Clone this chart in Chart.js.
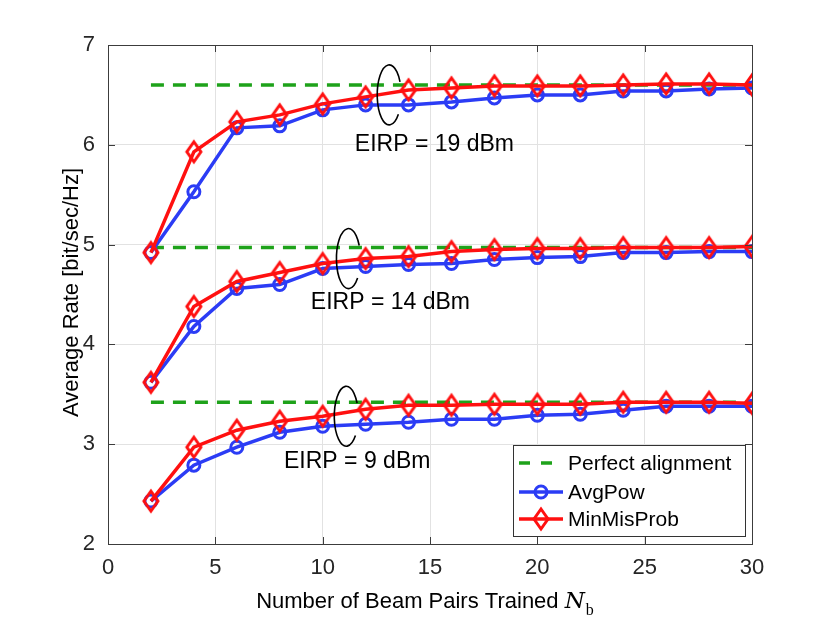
<!DOCTYPE html>
<html>
<head>
<meta charset="utf-8">
<script src="https://cdn.jsdelivr.net/npm/chart.js@4.4.1/dist/chart.umd.min.js"></script>
<style>
  html, body { margin:0; padding:0; background:#fff; }
  #wrap { width:830px; height:623px; }
</style>
</head>
<body>
<div id="wrap"><canvas id="chart" width="830" height="623"></canvas></div>
<script>
'use strict';

/* ── data ── */
const N_PAIRS   = [2, 4, 6, 8, 10, 12, 14, 16, 18, 20, 22, 24, 26, 28, 30];
const AVG_19    = [4.92, 5.53, 6.17, 6.19, 6.35, 6.40, 6.40, 6.43, 6.47, 6.50, 6.50, 6.54, 6.54, 6.56, 6.57];
const MIN_19    = [4.92, 5.93, 6.23, 6.30, 6.41, 6.48, 6.55, 6.57, 6.59, 6.59, 6.59, 6.60, 6.61, 6.61, 6.60];
const AVG_14    = [3.62, 4.18, 4.56, 4.60, 4.76, 4.78, 4.80, 4.81, 4.85, 4.87, 4.88, 4.92, 4.92, 4.93, 4.93];
const MIN_14    = [3.62, 4.38, 4.63, 4.72, 4.81, 4.86, 4.88, 4.93, 4.95, 4.96, 4.96, 4.97, 4.97, 4.97, 4.98];
const AVG_9     = [2.43, 2.79, 2.97, 3.12, 3.18, 3.20, 3.22, 3.25, 3.25, 3.29, 3.30, 3.34, 3.38, 3.38, 3.38];
const MIN_9     = [2.43, 2.97, 3.14, 3.23, 3.28, 3.35, 3.39, 3.39, 3.40, 3.40, 3.40, 3.42, 3.42, 3.42, 3.41];
const PERFECT   = [6.60, 4.97, 3.42];          // 19, 14, 9 dBm
const X_TICKS   = [0, 5, 10, 15, 20, 25, 30];
const Y_TICKS   = [2, 3, 4, 5, 6, 7];
const SERIES    = ['Perfect alignment', 'AvgPow', 'MinMisProb'];
const EIRP_TXT  = ['EIRP = 19 dBm', 'EIRP = 14 dBm', 'EIRP = 9 dBm'];
// label anchor (left, middle) and ellipse centre, in data units
const EIRP_POS  = [[11.5, 6.00], [9.45, 4.42], [8.2, 2.83]];
const ELL_POS   = [[13.1, 6.50], [11.2, 4.86], [11.1, 3.28]];

/* ── styles ── */
const C = { blue:'#2b3cf5', red:'#ff1010', green:'#1ea21a', ink:'#262626', grid:'#e2e2e2', axis:'#3c3c3c' };
const FONT = "'Liberation Sans', Arial, Helvetica, sans-serif";

function diamond(color) {
  const cv = document.createElement('canvas');
  cv.width = 22; cv.height = 28;
  const g = cv.getContext('2d');
  g.strokeStyle = color; g.lineWidth = 3; g.lineJoin = 'miter';
  g.beginPath();
  g.moveTo(11, 4); g.lineTo(18, 14); g.lineTo(11, 24); g.lineTo(4, 14); g.closePath();
  g.stroke();
  return cv;
}
const DIAMOND = diamond(C.red);

const pts = ys => N_PAIRS.map((x, i) => ({ x, y: ys[i] }));
const flat = v => [{ x: N_PAIRS[0], y: v }, { x: N_PAIRS[N_PAIRS.length - 1], y: v }];

const datasets = [];
[MIN_19, MIN_14, MIN_9].forEach(d => datasets.push({
  label: SERIES[2], data: pts(d), order: 1,
  borderColor: C.red, borderWidth: 3.5, pointStyle: DIAMOND,
  pointRadius: 9, pointBorderWidth: 0, backgroundColor: 'transparent'
}));
[AVG_19, AVG_14, AVG_9].forEach(d => datasets.push({
  label: SERIES[1], data: pts(d), order: 2,
  borderColor: C.blue, borderWidth: 3.5, pointStyle: 'circle',
  pointRadius: 6, pointBorderWidth: 3, pointBorderColor: C.blue, pointBackgroundColor: 'transparent'
}));
PERFECT.forEach(v => datasets.push({
  label: SERIES[0], data: flat(v), order: 3,
  borderColor: C.green, borderWidth: 3.5, borderDash: [13, 9], pointRadius: 0
}));

/* ── extra drawing: box, inward ticks, ellipses, labels, legend, titles ── */
const decor = {
  id: 'decor',
  afterDatasetsDraw(chart) {
    const { ctx, chartArea: a, scales: { x, y } } = chart;
    ctx.save();

    // ellipse markers
    ctx.strokeStyle = '#000'; ctx.lineWidth = 1.6;
    ELL_POS.forEach(([ex, ey]) => {
      ctx.beginPath();
      ctx.ellipse(x.getPixelForValue(ex), y.getPixelForValue(ey), 12, 30, 0, 0.7, Math.PI * 2 - 0.45);
      ctx.stroke();
    });

    // EIRP labels
    ctx.fillStyle = '#000';
    ctx.font = `23px ${FONT}`;
    ctx.textAlign = 'left'; ctx.textBaseline = 'middle';
    EIRP_TXT.forEach((t, i) => ctx.fillText(t, x.getPixelForValue(EIRP_POS[i][0]), y.getPixelForValue(EIRP_POS[i][1])));

    // axes box + inward ticks
    ctx.strokeStyle = C.axis; ctx.lineWidth = 1;
    ctx.strokeRect(a.left + 0.5, a.top + 0.5, a.right - a.left, a.bottom - a.top);
    ctx.beginPath();
    X_TICKS.forEach(v => {
      const px = Math.round(x.getPixelForValue(v)) + 0.5;
      ctx.moveTo(px, a.bottom); ctx.lineTo(px, a.bottom - 7);
      ctx.moveTo(px, a.top); ctx.lineTo(px, a.top + 7);
    });
    Y_TICKS.forEach(v => {
      const py = Math.round(y.getPixelForValue(v)) + 0.5;
      ctx.moveTo(a.left, py); ctx.lineTo(a.left + 7, py);
      ctx.moveTo(a.right, py); ctx.lineTo(a.right - 7, py);
    });
    ctx.stroke();

    // legend
    const bw = 232, bh = 91;
    const bx = a.right - 7 - bw, by = a.bottom - 8 - bh;
    ctx.fillStyle = '#fff';
    ctx.fillRect(bx, by, bw, bh);
    ctx.strokeStyle = '#333'; ctx.lineWidth = 1;
    ctx.strokeRect(bx + 0.5, by + 0.5, bw, bh);
    ctx.font = `21px ${FONT}`;
    ctx.textBaseline = 'middle';
    const rows = [by + 18, by + 47, by + 74];
    const lx0 = bx + 6, lx1 = bx + 50, lxm = (lx0 + lx1) / 2;
    // perfect
    ctx.strokeStyle = C.green; ctx.lineWidth = 3.5; ctx.setLineDash([11, 11]);
    ctx.beginPath(); ctx.moveTo(lx0, rows[0]); ctx.lineTo(lx1, rows[0]); ctx.stroke();
    ctx.setLineDash([]);
    // avgpow
    ctx.strokeStyle = C.blue;
    ctx.beginPath(); ctx.moveTo(lx0, rows[1]); ctx.lineTo(lx1, rows[1]); ctx.stroke();
    ctx.lineWidth = 3;
    ctx.beginPath(); ctx.arc(lxm, rows[1], 6, 0, Math.PI * 2); ctx.stroke();
    // minmisprob
    ctx.strokeStyle = C.red; ctx.lineWidth = 3.5;
    ctx.beginPath(); ctx.moveTo(lx0, rows[2]); ctx.lineTo(lx1, rows[2]); ctx.stroke();
    ctx.drawImage(DIAMOND, lxm - DIAMOND.width / 2, rows[2] - DIAMOND.height / 2);
    ctx.fillStyle = '#000';
    SERIES.forEach((s, i) => ctx.fillText(s, bx + 55, rows[i] + 1));

    // axis titles
    ctx.fillStyle = '#000';
    ctx.font = `22px ${FONT}`;
    const main = 'Number of Beam Pairs Trained ';
    ctx.font = `22px ${FONT}`;
    const w1 = ctx.measureText(main).width;
    ctx.font = `italic 23px 'DejaVu Serif', 'Liberation Serif', serif`;
    const wN = ctx.measureText('N').width;
    ctx.font = `16px 'Liberation Serif', 'DejaVu Serif', serif`;
    const wb = ctx.measureText('b').width;
    const total = w1 + wN + wb + 1;
    let tx = (a.left + a.right) / 2 - total / 2 - 5;
    const ty = 608;
    ctx.textAlign = 'left'; ctx.textBaseline = 'alphabetic';
    ctx.font = `22px ${FONT}`;
    ctx.fillText(main, tx, ty); tx += w1;
    ctx.font = `italic 23px 'DejaVu Serif', 'Liberation Serif', serif`;
    ctx.fillText('N', tx, ty); tx += wN + 1;
    ctx.font = `16px 'Liberation Serif', 'DejaVu Serif', serif`;
    ctx.fillText('b', tx, ty + 7);

    ctx.save();
    ctx.translate(72, (a.top + a.bottom) / 2 - 2);
    ctx.rotate(-Math.PI / 2);
    ctx.font = `22px ${FONT}`;
    ctx.textAlign = 'center'; ctx.textBaseline = 'middle';
    ctx.fillText('Average Rate [bit/sec/Hz]', 0, 0);
    ctx.restore();

    ctx.restore();
  }
};

new Chart(document.getElementById('chart'), {
  type: 'line',
  data: { datasets },
  options: {
    responsive: false, animation: false, devicePixelRatio: 1,
    layout: { padding: { left: 0, top: 45, right: 78, bottom: 0 } },
    plugins: { legend: { display: false }, tooltip: { enabled: false } },
    scales: {
      x: {
        type: 'linear', min: 0, max: 30,
        afterBuildTicks: s => { s.ticks = X_TICKS.map(v => ({ value: v })); },
        afterFit: s => { s.height = 79; },
        grid: { color: C.grid, drawTicks: false },
        border: { display: false },
        ticks: { color: C.ink, font: { family: FONT, size: 22 }, padding: 11, maxRotation: 0 }
      },
      y: {
        type: 'linear', min: 2, max: 7,
        afterBuildTicks: s => { s.ticks = Y_TICKS.map(v => ({ value: v })); },
        afterFit: s => { s.width = 108; },
        grid: { color: C.grid, drawTicks: false },
        border: { display: false },
        ticks: { color: C.ink, font: { family: FONT, size: 22 }, padding: 13 }
      }
    }
  },
  plugins: [decor]
});
</script>
</body>
</html>
